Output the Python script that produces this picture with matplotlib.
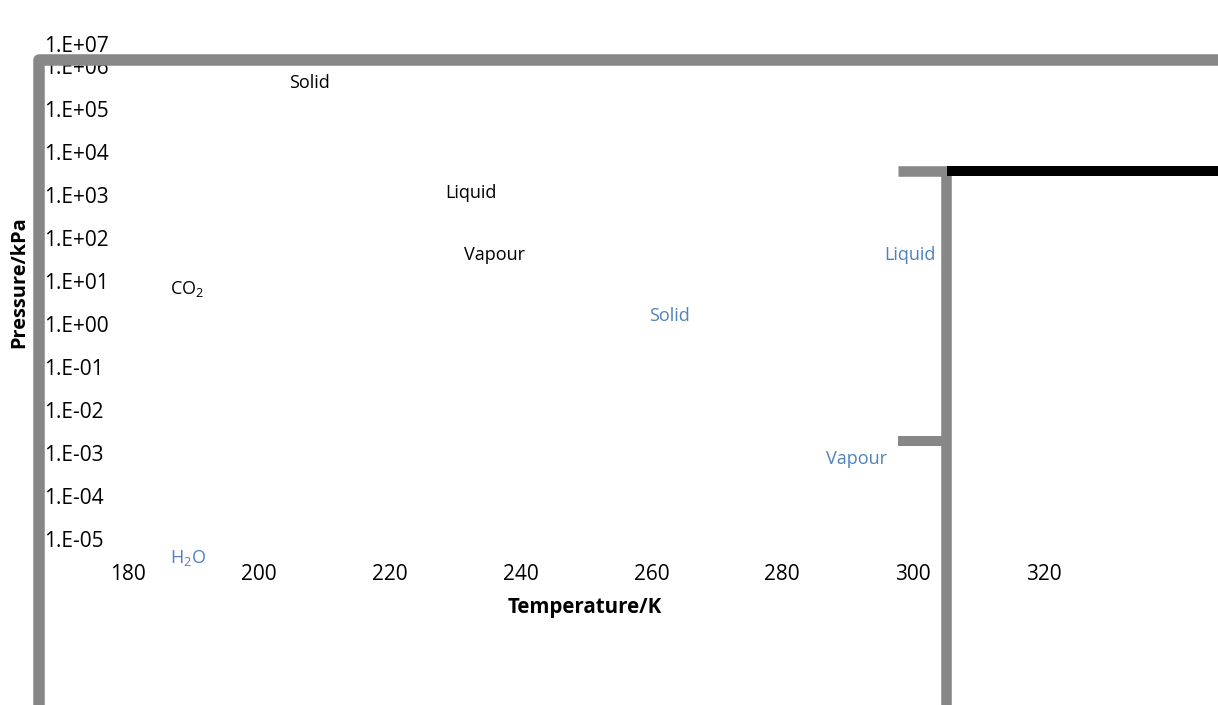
import matplotlib.pyplot as plt

W, H = 1218, 705

temps = [180, 200, 220, 240, 260, 280, 300, 320]
pressures = [1e-5, 1e-4, 1e-3, 1e-2, 1e-1, 1e0, 1e1, 1e2, 1e3, 1e4, 1e5, 1e6]
p_labels = ['1.E-05', '1.E-04', '1.E-03', '1.E-02', '1.E-01', '1.E+00',
            '1.E+01', '1.E+02', '1.E+03', '1.E+04', '1.E+05', '1.E+06']
top_label = '1.E+07'

co2_texts = ['Solid', 'Liquid', 'Vapour', 'CO$_{\\mathrm{2}}$']
h2o_texts = ['Liquid', 'Solid', 'Vapour', 'H$_{\\mathrm{2}}$O']

# where the labels sit, in picture pixels
co2_pos = [(309, 83), (471, 193), (494, 255), (187, 289)]
h2o_pos = [(910, 255), (669, 316), (856, 459), (188, 558)]

GRAY = '#878787'
BLUE = '#4f81bd'

plt.rcParams['font.family'] = ['Open Sans', 'DejaVu Sans']
plt.rcParams['mathtext.fontset'] = 'custom'
plt.rcParams['mathtext.rm'] = 'Open Sans'

fig = plt.figure(figsize=(W / 100, H / 100), dpi=100)


def fx(px):
    return px / W


def fy(py):
    return 1 - py / H


ax = fig.add_axes([fx(128), fy(539), fx(1044) - fx(128), fy(66) - fy(539)])
ax.set_yscale('log')
ax.set_xlim(180, 320)
ax.set_ylim(1e-5, 1e6)
ax.set_xticks(temps, [str(t) for t in temps])
ax.set_yticks(pressures, p_labels)
ax.minorticks_off()
ax.tick_params(length=0, labelsize=15)
# y labels start just right of the left border
ax.tick_params(axis='y', pad=(128 - 44) * 0.72)
for lab in ax.get_yticklabels():
    lab.set_horizontalalignment('left')
ax.tick_params(axis='x', pad=18)
for s in ax.spines.values():
    s.set_visible(False)
ax.patch.set_visible(False)

fig.text(fx(44), fy(46), top_label, ha='left', va='center', fontsize=15)
fig.text(fx(585), fy(608), 'Temperature/K', ha='center', va='center',
         fontsize=14.8, fontweight='bold')
fig.text(fx(19), fy(282), 'Pressure/kPa', ha='center', va='center',
         rotation=90, fontsize=14.4, fontweight='bold')

# overlay in pixel units for the frame borders and phase labels
ov = fig.add_axes([0, 0, 1, 1], zorder=5)
ov.set_xlim(0, W)
ov.set_ylim(H, 0)
ov.axis('off')

ov.plot([39, 39, 1240], [720, 60, 60], color=GRAY, lw=8.3,
        solid_joinstyle='round', solid_capstyle='butt')
ov.plot([898, 945.5, 945.5], [171, 171, 720], color=GRAY, lw=7.6,
        solid_joinstyle='miter', solid_capstyle='butt')
ov.plot([898, 945], [441, 441], color=GRAY, lw=7.2, solid_capstyle='butt')
ov.plot([947, 1240], [171, 171], color='black', lw=7.2, solid_capstyle='butt')

for t, (x, y) in zip(co2_texts, co2_pos):
    ov.text(x, y, t, ha='center', va='center', fontsize=13, color='black')
for t, (x, y) in zip(h2o_texts, h2o_pos):
    ov.text(x, y, t, ha='center', va='center', fontsize=13, color=BLUE)

fig.savefig('out.png', dpi=100)
